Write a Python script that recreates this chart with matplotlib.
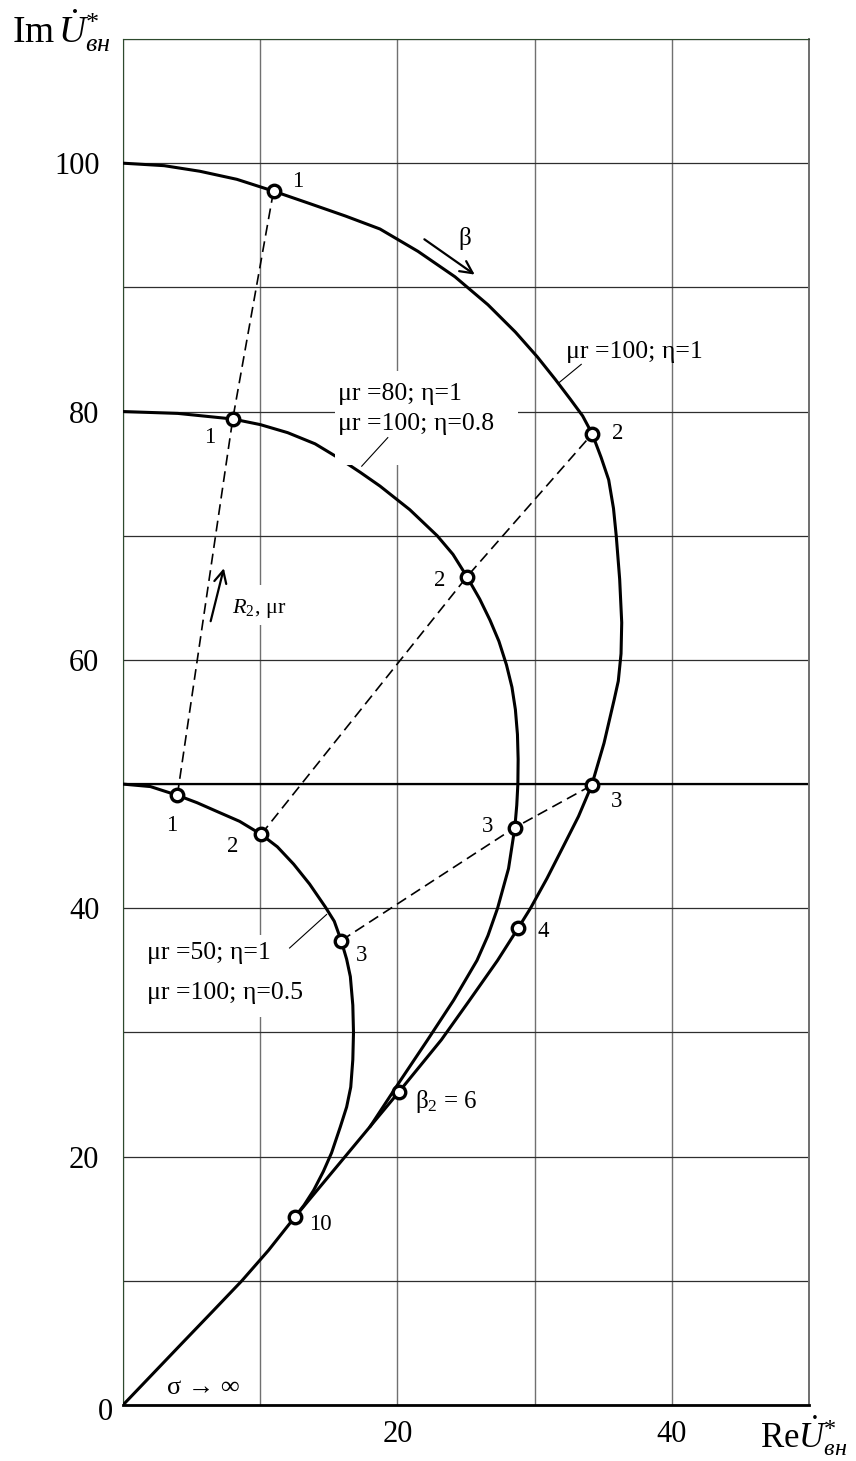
import matplotlib
matplotlib.use("Agg")
import matplotlib.pyplot as plt
from matplotlib.patches import Rectangle

plt.rcParams["font.family"] = ["Liberation Serif", "DejaVu Serif"]
plt.rcParams["mathtext.fontset"] = "custom"
plt.rcParams["mathtext.rm"] = "Liberation Serif"
plt.rcParams["mathtext.it"] = "Liberation Serif:italic"
plt.rcParams["mathtext.bf"] = "Liberation Serif:bold"

# mu_r=100, eta=1 hodograph, running on down to the origin (sigma -> inf)
outer_re = [0, 3.0, 5.6, 8.3, 10.97, 13.6, 16.2, 18.73, 21.5, 24.2, 26.6, 28.6,
            30.2, 31.5, 32.6, 33.5, 34.2, 34.85, 35.4, 35.75, 35.95, 36.2, 36.35,
            36.3, 36.1, 35.8, 35.06, 34.16, 33.2, 32.1, 30.9, 29.7, 28.8, 27.3,
            25.2, 23.2, 20.1, 16.3, 12.5, 10.6, 8.66, 6.5, 4.3, 0]
outer_im = [100, 99.8, 99.35, 98.7, 97.75, 96.75, 95.75, 94.7, 92.9, 90.85, 88.6, 86.4,
            84.4, 82.6, 81.0, 79.65, 78.2, 76.3, 74.5, 72.2, 70.0, 66.5, 63.0,
            60.5, 58.3, 56.8, 53.3, 49.9, 47.4, 45.0, 42.4, 40.0, 38.4, 35.8,
            32.5, 29.4, 25.2, 20.15, 15.1, 12.45, 10.0, 7.5, 4.97, 0]

# mu_r=80, eta=1 (same as mu_r=100, eta=0.8); joins the outer curve near beta ~ 7
mid_re = [0, 4.0, 8.0, 10.0, 12.0, 14.0, 15.8, 17.3, 18.73, 20.9, 22.9, 24.05,
          25.07, 26.0, 26.75, 27.4, 27.95, 28.35, 28.6, 28.75, 28.8, 28.78, 28.7,
          28.56, 28.1, 27.3, 26.6, 25.8, 24.1, 22.2, 20.2, 18.0]
mid_im = [80, 79.85, 79.4, 78.95, 78.3, 77.4, 76.2, 75.1, 74.0, 72.1, 70.0, 68.5,
          66.7, 64.9, 63.2, 61.5, 59.6, 57.8, 56.0, 54.0, 52.0, 50.0, 48.3,
          46.5, 43.2, 40.0, 37.8, 35.8, 32.6, 29.4, 26.1, 22.4]

# mu_r=50, eta=1 (same as mu_r=100, eta=0.5); ends at beta=10
inner_re = [0, 2.0, 3.96, 5.4, 6.84, 8.5, 10.07, 11.25, 12.44, 13.6, 14.75, 15.4,
            15.9, 16.3, 16.57, 16.75, 16.8, 16.75, 16.6, 16.3, 15.84, 15.2, 14.6,
            13.9, 13.2, 12.5]
inner_im = [50, 49.8, 49.1, 48.5, 47.8, 47.0, 45.95, 44.95, 43.55, 41.95, 40.1, 38.95,
            37.4, 35.9, 34.5, 32.2, 30.0, 27.8, 25.6, 24.0, 22.4, 20.3, 18.8,
            17.3, 16.1, 15.1]

# constant-beta points on the three curves (inner, middle, outer)
beta1_re = [3.96, 8.0, 10.97]
beta1_im = [49.1, 79.4, 97.75]
beta2_re = [10.07, 25.07, 34.2]
beta2_im = [45.95, 66.7, 78.2]
beta3_re = [15.9, 28.56, 34.16]
beta3_im = [37.4, 46.5, 49.9]
# beta = 4, 6, 10 on the outer curve
tail_re = [28.8, 20.1, 12.5]
tail_im = [38.4, 25.2, 15.1]

beta_labels = ["1", "1", "1", "2", "2", "2", "3", "3", "3", "4", "10"]
beta_label_re = [12.7, 6.34, 3.55, 36.06, 23.05, 8.0, 35.98, 26.6, 17.4, 30.63, 14.36]
beta_label_im = [98.5, 77.9, 46.7, 78.2, 66.4, 44.95, 48.6, 46.6, 36.2, 38.1, 14.5]

x_ticks = [0, 10, 20, 30, 40, 50]
x_tick_labels = ["", "", "20", "", "40", ""]
y_ticks = [0, 10, 20, 30, 40, 50, 60, 70, 80, 90, 100, 110]
y_tick_labels = ["", "", "20", "", "40", "", "60", "", "80", "", "100", ""]

W, H = 856, 1461
fig = plt.figure(figsize=(W / 100, H / 100), dpi=100)
ax = fig.add_axes([123 / W, 56 / H, 686 / W, 1366 / H])
ax.set_xlim(0, 50)
ax.set_ylim(0, 110)

ax.set_xticks(x_ticks)
ax.set_xticklabels(x_tick_labels)
ax.set_yticks(y_ticks)
ax.set_yticklabels(y_tick_labels)
ax.tick_params(length=0, labelsize=22)
ax.tick_params(axis="y", pad=17)
ax.tick_params(axis="x", pad=11)
ax.xaxis.grid(True, color="#707070", lw=1.0, zorder=0)
ax.yaxis.grid(True, color="#2e2e2e", lw=0.9, zorder=0)
ax.set_axisbelow(True)
ax.axhline(50, color="black", lw=1.6, zorder=1)

ax.spines["left"].set_color("#2d4a2d")
ax.spines["top"].set_color("#2d4a2d")
ax.spines["right"].set_color("#6e6e6e")
ax.spines["right"].set_linewidth(1.4)
ax.spines["bottom"].set_color("black")
ax.spines["bottom"].set_linewidth(2.0)

curve_kw = dict(color="black", lw=2.2, solid_joinstyle="round",
                solid_capstyle="round", zorder=3)
ax.plot(outer_re, outer_im, **curve_kw)
ax.plot(mid_re, mid_im, **curve_kw)
ax.plot(inner_re, inner_im, **curve_kw)

dash_kw = dict(color="black", lw=1.2, dashes=(6.5, 3.5), zorder=2)
for bre, bim in [(beta1_re, beta1_im), (beta2_re, beta2_im), (beta3_re, beta3_im)]:
    ax.plot(bre, bim, **dash_kw)

mark_kw = dict(ls="none", marker="o", ms=9, mfc="white", mec="black", mew=2.4, zorder=6)
for bre, bim in [(beta1_re, beta1_im), (beta2_re, beta2_im), (beta3_re, beta3_im),
                 (tail_re, tail_im)]:
    ax.plot(bre, bim, **mark_kw)

for txt, tx, ty in zip(beta_labels, beta_label_re, beta_label_im):
    ax.text(tx, ty, txt, fontsize=16.5, ha="center", va="center", zorder=7)

# white pads behind the curve captions
for x0, x1, y0, y1 in [(15.45, 28.8, 75.7, 83.3), (1.24, 12.9, 31.25, 37.85),
                       (7.65, 11.8, 62.8, 66.0)]:
    ax.add_patch(Rectangle((x0, y0), x1 - x0, y1 - y0, facecolor="white",
                           edgecolor="none", zorder=4))

cap = dict(fontsize=18.5, ha="left", va="center", zorder=7)
ax.text(32.3, 84.8, "μr =100; η=1", **cap)
ax.text(15.7, 81.45, "μr =80; η=1", **cap)
ax.text(15.7, 79.0, "μr =100; η=0.8", **cap)
ax.text(1.72, 36.4, "μr =50; η=1", **cap)
ax.text(1.72, 33.2, "μr =100; η=0.5", **cap)
ax.text(7.92, 64.1, "$R_2$, μr", fontsize=16, ha="left", va="center", zorder=7)
ax.text(21.28, 24.4, r"$\mathrm{\beta}_2$ = 6", fontsize=18, ha="left", va="center")
ax.text(24.93, 93.9, "β", fontsize=18, ha="center", va="center")
ax.text(3.18, 1.34, "σ → ∞", fontsize=19, ha="left", va="center")

# leader lines from captions to their curves
leader_kw = dict(color="black", lw=0.8, zorder=5)
ax.plot([17.4, 19.3], [75.6, 77.9], **leader_kw)
ax.plot([12.14, 14.84], [36.8, 39.5], **leader_kw)
ax.plot([31.75, 33.4], [82.3, 83.8], **leader_kw)

arrow_kw = dict(arrowstyle="->", lw=1.6, color="black", mutation_scale=22)
ax.annotate("", xy=(25.8, 90.9), xytext=(21.8, 94.0), arrowprops=arrow_kw)
ax.annotate("", xy=(7.4, 67.6), xytext=(6.34, 62.9), arrowprops=arrow_kw)

ax.text(-0.75, -0.6, "0", fontsize=22, ha="right", va="center", clip_on=False)

fig.text(12 / W, 1 - 43 / H, r"$\mathrm{Im}\,\dot{U}^{*}_{вн}$", fontsize=27,
         ha="left", va="baseline")
fig.text(760 / W, 1 - 1448 / H, r"$\mathrm{Re}\dot{U}^{*}_{вн}$", fontsize=25,
         ha="left", va="baseline")

fig.savefig("out.png", dpi=100)
